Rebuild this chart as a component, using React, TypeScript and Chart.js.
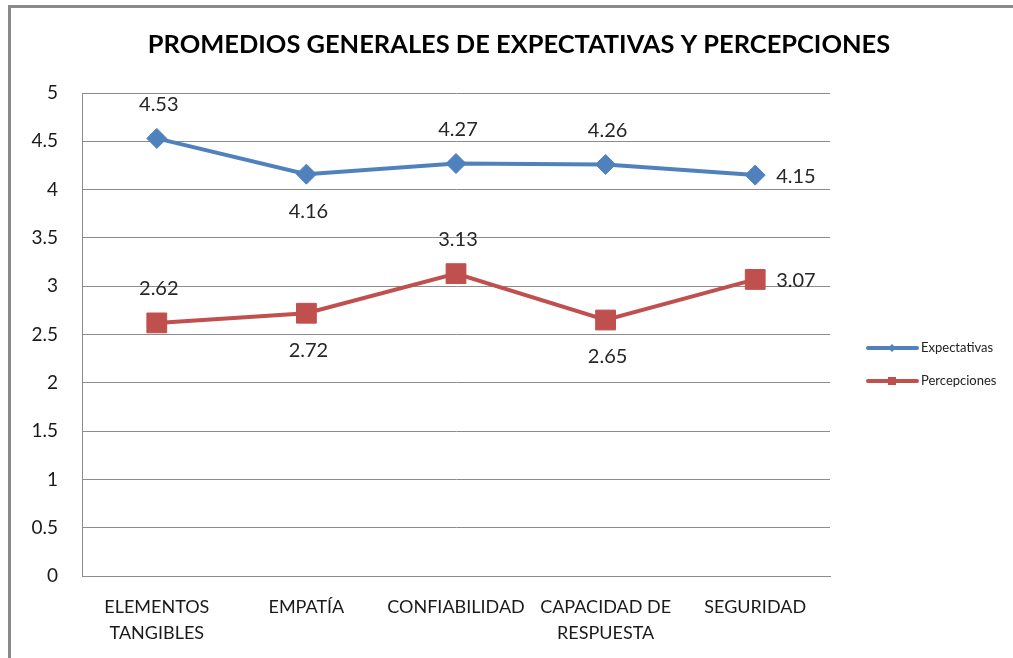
import React, { useEffect, useRef } from 'react';
import { Chart, registerables } from 'chart.js';

Chart.register(...registerables);

const categories: string[][] = [
  ['ELEMENTOS', 'TANGIBLES'],
  ['EMPATÍA'],
  ['CONFIABILIDAD'],
  ['CAPACIDAD DE', 'RESPUESTA'],
  ['SEGURIDAD'],
];
const expectativas = [4.53, 4.16, 4.27, 4.26, 4.15];
const percepciones = [2.62, 2.72, 3.13, 2.65, 3.07];
const expLabelPos = ['above', 'below', 'above', 'above', 'right'];
const perLabelPos = ['above', 'below', 'above', 'below', 'right'];
const seriesNames = ['Expectativas', 'Percepciones'];
const titleText = 'PROMEDIOS GENERALES DE EXPECTATIVAS Y PERCEPCIONES';

const FONT = 'Lato, "Open Sans", "DejaVu Sans", sans-serif';
const BLUE = '#4F81BD';
const RED = '#C0504D';
const GRID = '#8c8c8c';

const framePlugin = {
  id: 'frame',
  beforeDraw(chart: any) {
    const ctx = chart.ctx;
    ctx.save();
    ctx.fillStyle = '#ffffff';
    ctx.fillRect(0, 0, chart.width, chart.height);
    ctx.fillStyle = '#8a8a8a';
    ctx.fillRect(8, 5, 3, chart.height - 5);
    ctx.fillRect(8, 5, chart.width - 8, 3);
    ctx.restore();
  },
};

const titlePlugin = {
  id: 'customTitle',
  afterDraw(chart: any) {
    const ctx = chart.ctx;
    ctx.save();
    ctx.fillStyle = '#000000';
    ctx.font = `bold 24px ${FONT}`;
    ctx.textAlign = 'center';
    ctx.textBaseline = 'middle';
    ctx.translate(519, 45);
    ctx.scale(1.06, 1);
    ctx.fillText(titleText, 0, 0);
    ctx.restore();
  },
};

const labelsPlugin = {
  id: 'dataLabels',
  afterDatasetsDraw(chart: any) {
    const ctx = chart.ctx;
    const posSets = [expLabelPos, perLabelPos];
    ctx.save();
    ctx.fillStyle = '#262626';
    ctx.font = `20px ${FONT}`;
    ctx.textBaseline = 'middle';
    chart.data.datasets.forEach((ds: any, i: number) => {
      const meta = chart.getDatasetMeta(i);
      meta.data.forEach((pt: any, j: number) => {
        const v = ds.data[j];
        const text = v.toFixed(2);
        const pos = posSets[i][j];
        if (pos === 'right') {
          ctx.textAlign = 'left';
          ctx.fillText(text, pt.x + 21, pt.y + 1);
        } else if (pos === 'above') {
          ctx.textAlign = 'center';
          ctx.fillText(text, pt.x + 2, pt.y - 34);
        } else {
          ctx.textAlign = 'center';
          ctx.fillText(text, pt.x + 2, pt.y + 37);
        }
      });
    });
    ctx.restore();
  },
};

const legendPlugin = {
  id: 'customLegend',
  afterDraw(chart: any) {
    const ctx = chart.ctx;
    const ys = [348, 381];
    const colors = [BLUE, RED];
    ctx.save();
    seriesNames.forEach((name, i) => {
      const y = ys[i];
      ctx.strokeStyle = colors[i];
      ctx.lineWidth = 4;
      ctx.lineCap = 'round';
      ctx.beginPath();
      ctx.moveTo(868, y);
      ctx.lineTo(917, y);
      ctx.stroke();
      ctx.fillStyle = colors[i];
      if (i === 0) {
        ctx.beginPath();
        ctx.moveTo(892, y - 4);
        ctx.lineTo(896, y);
        ctx.lineTo(892, y + 4);
        ctx.lineTo(888, y);
        ctx.closePath();
        ctx.fill();
      } else {
        ctx.fillRect(888, y - 4, 8, 8);
      }
      ctx.fillStyle = '#222222';
      ctx.font = `13px ${FONT}`;
      ctx.textAlign = 'left';
      ctx.textBaseline = 'middle';
      ctx.fillText(name, 921, y);
    });
    ctx.restore();
  },
};

export default function App() {
  const ref = useRef<HTMLCanvasElement | null>(null);

  useEffect(() => {
    if (!ref.current) return;
    const chart = new Chart(ref.current, {
      type: 'line',
      data: {
        labels: categories,
        datasets: [
          {
            label: seriesNames[0],
            data: expectativas,
            borderColor: BLUE,
            backgroundColor: BLUE,
            borderWidth: 4,
            pointStyle: 'rectRot',
            pointRadius: 10,
            pointBorderWidth: 1,
            pointBackgroundColor: BLUE,
            pointBorderColor: BLUE,
            tension: 0,
          },
          {
            label: seriesNames[1],
            data: percepciones,
            borderColor: RED,
            backgroundColor: RED,
            borderWidth: 4,
            pointStyle: 'rect',
            pointRadius: 14,
            pointBorderWidth: 1,
            pointBackgroundColor: RED,
            pointBorderColor: RED,
            tension: 0,
          },
        ],
      },
      options: {
        responsive: false,
        animation: false,
        layout: { padding: { left: 20, right: 183, top: 93, bottom: 0 } },
        plugins: {
          legend: { display: false },
          title: { display: false },
          tooltip: { enabled: false },
        },
        scales: {
          x: {
            offset: true,
            grid: { display: false, drawTicks: false },
            border: { display: true, color: GRID, width: 1 },
            ticks: {
              color: '#1a1a1a',
              font: { family: FONT, size: 18, lineHeight: 1.4 },
              padding: 19,
              maxRotation: 0,
              minRotation: 0,
              autoSkip: false,
            },
            afterFit: (scale: any) => {
              scale.height = 82;
            },
          },
          y: {
            min: 0,
            max: 5,
            grid: { color: GRID, lineWidth: 1, drawTicks: false },
            border: { display: true, color: GRID, width: 1 },
            ticks: {
              stepSize: 0.5,
              color: '#1a1a1a',
              font: { family: FONT, size: 19 },
              padding: 24,
              callback: (v: any) => String(v),
            },
            afterFit: (scale: any) => {
              scale.width = 62;
            },
          },
        },
      },
      plugins: [framePlugin, labelsPlugin, titlePlugin, legendPlugin],
    });
    return () => chart.destroy();
  }, []);

  return (
    <div style={{ position: 'fixed', left: 0, top: 0, width: 1013, height: 658, background: '#fff' }}>
      <canvas ref={ref} width={1013} height={658} style={{ display: 'block', width: 1013, height: 658 }} />
    </div>
  );
}
